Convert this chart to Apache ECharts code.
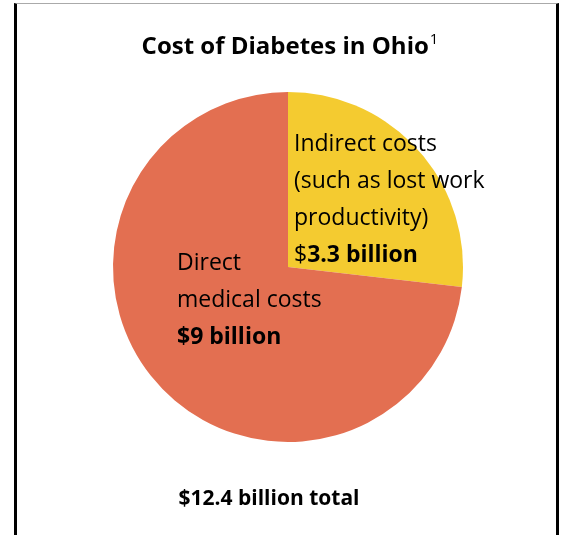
<!DOCTYPE html>
<html><head><meta charset="utf-8">
<script src="https://cdn.jsdelivr.net/npm/echarts@6/dist/echarts.min.js"></script>
<style>
html,body{margin:0;padding:0;background:#fff;}
#c{position:absolute;left:0;top:0;width:561px;height:535px;}
#frame{position:absolute;left:14px;top:3px;width:539px;height:540px;border-left:3px solid #000;border-right:3px solid #000;border-top:1px solid #aaa;pointer-events:none;}
</style></head>
<body>
<div id="c"></div>
<div id="frame"></div>
<script>
const categories = ['Indirect costs', 'Direct medical costs'];
const values = [3.3, 9];
const colors = ['#F4CB30', '#E36F51'];
const totalLabel = '$12.4 billion total';

const FONT = '"Open Sans", sans-serif';
const chart = echarts.init(document.getElementById('c'));
const labelFmt = [
  '{n|Indirect costs}\n{n|(such as lost work}\n{n|productivity)}\n{n|$}{b|3.3 billion}',
  '{n|Direct}\n{n|medical costs}\n{b|$9 billion}'
];
const labelPos = [[294, 126], [177, 245]];
chart.setOption({
  animation: false,
  title: [{
    text: '{t|Cost of Diabetes in Ohio}{s|1}',
    left: 285, top: 27, textAlign: 'center',
    textStyle: { rich: {
      t: { fontFamily: FONT, fontSize: 24, fontWeight: 'bold', color: '#000', lineHeight: 30 },
      s: { fontFamily: FONT, fontSize: 15, fontWeight: 'normal', color: '#000', verticalAlign: 'top', lineHeight: 30, padding: [0,0,10,1] }
    } }
  }, {
    text: totalLabel,
    left: 264, top: 484, textAlign: 'center',
    textStyle: { fontFamily: FONT, fontSize: 21, fontWeight: 'bold', color: '#000' }
  }],
  series: [{
    type: 'pie',
    center: [288, 267],
    radius: 175,
    startAngle: 90,
    clockwise: true,
    silent: true,
    data: categories.map((c, i) => ({ name: c, value: values[i], itemStyle: { color: colors[i] } })),
    label: {
      show: true,
      position: 'inside',
      formatter: p => labelFmt[p.dataIndex],
      rich: {
        n: { fontFamily: FONT, fontSize: 23, color: '#000', lineHeight: 37 },
        b: { fontFamily: FONT, fontSize: 23, fontWeight: 'bold', color: '#000', lineHeight: 37 }
      },
      align: 'left', verticalAlign: 'top'
    },
    labelLine: { show: false },
    labelLayout: p => ({ x: labelPos[p.dataIndex][0], y: labelPos[p.dataIndex][1], align: 'left', verticalAlign: 'top' }),
    emphasis: { disabled: true }
  }]
});
</script>
</body></html>
